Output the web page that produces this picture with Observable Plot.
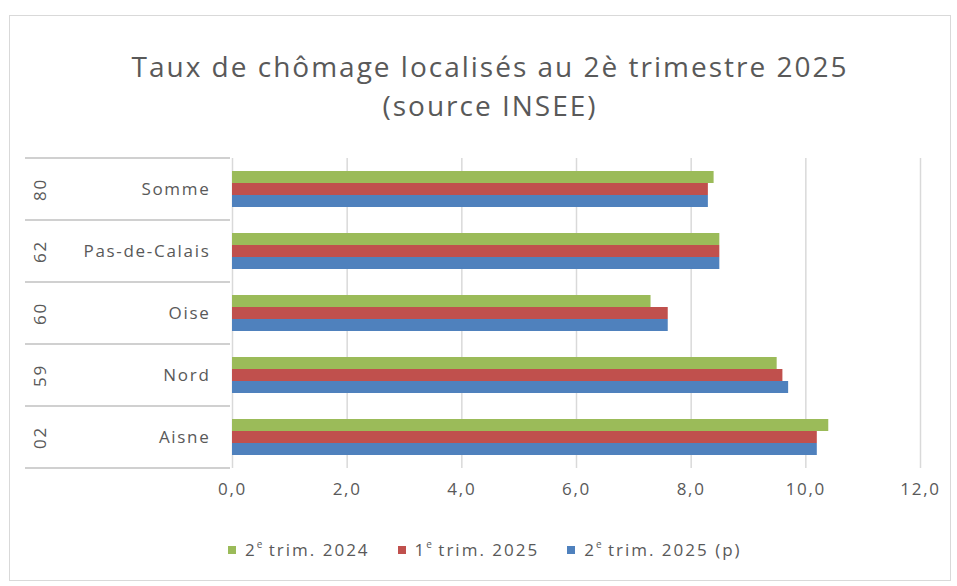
<!DOCTYPE html>
<html><head><meta charset="utf-8">
<script src="https://cdn.jsdelivr.net/npm/d3@7"></script>
<script src="https://cdn.jsdelivr.net/npm/@observablehq/plot@0.6"></script>
<style>
html,body{margin:0;padding:0;background:#fff;}
body{width:957px;height:586px;position:relative;overflow:hidden;font-family:"Open Sans",sans-serif;color:#595959;}
#box{position:absolute;left:9px;top:15px;width:942px;height:566px;border:1.5px solid #d9d9d9;box-sizing:border-box;}
#title{position:absolute;left:23px;top:47px;width:934px;text-align:center;font-size:28px;letter-spacing:2px;line-height:39px;color:#595959;}
#chart{position:absolute;left:0;top:150px;}
#legend{position:absolute;left:228px;top:538px;display:flex;gap:28px;font-size:17px;letter-spacing:2px;line-height:24px;color:#595959;}
#legend .it{display:flex;align-items:center;gap:9px;}
#legend .sw{width:8px;height:8px;display:inline-block;}
sup{font-size:10px;vertical-align:8px;line-height:0;letter-spacing:0;}
</style></head>
<body>
<div id="box"></div>
<div id="title">Taux de chômage localisés au 2è trimestre 2025<br>(source INSEE)</div>
<div id="chart"></div>
<div id="legend"></div>
<script>
const regions = ["Somme", "Pas-de-Calais", "Oise", "Nord", "Aisne"];
const codes = ["80", "62", "60", "59", "02"];
const series = ["2e trim. 2024", "1e trim. 2025", "2e trim. 2025 (p)"];
const seriesHtml = ["2<sup>e</sup> trim. 2024", "1<sup>e</sup> trim. 2025", "2<sup>e</sup> trim. 2025 (p)"];
const t2_2024 = [8.4, 8.5, 7.3, 9.5, 10.4];
const t1_2025 = [8.3, 8.5, 7.6, 9.6, 10.2];
const t2_2025 = [8.3, 8.5, 7.6, 9.7, 10.2];
const xTicks = [0, 2, 4, 6, 8, 10, 12];
const colors = ["#9BBB59", "#C0504D", "#4F81BD"];

const valuesBySeries = [t2_2024, t1_2025, t2_2025];
const rows = [];
series.forEach((s, si) => regions.forEach((r, ri) => rows.push({series: s, region: r, value: valuesBySeries[si][ri]})));
const codeRows = regions.map((r, i) => ({region: r, code: codes[i]}));

const chart = Plot.plot({
  width: 957,
  height: 354,
  marginLeft: 232,
  marginRight: 37,
  marginTop: 7,
  marginBottom: 35,
  style: {fontFamily: "Open Sans, sans-serif", fontSize: "17px", letterSpacing: "1.7px", color: "#595959", background: "transparent"},
  x: {domain: [0, 12], ticks: xTicks, tickFormat: d => d.toFixed(1).replace(".", ","), tickSize: 0, tickPadding: 14, label: null},
  y: {domain: series, axis: null, paddingInner: 0, paddingOuter: 1},
  fy: {domain: regions, padding: 0, label: null, axis: "left", tickSize: 0, tickPadding: 22},
  color: {domain: series, range: colors},
  marks: [
    Plot.gridX(xTicks, {stroke: "#d9d9d9", strokeOpacity: 1, strokeWidth: 1.5}),
    Plot.barX(rows, {x: "value", y: "series", fy: "region", fill: "series", inset: 0}),
    Plot.text(codeRows, {fy: "region", text: "code", frameAnchor: "left", textAnchor: "middle", dx: -192, rotate: -90, fill: "#595959", fontSize: 17})
  ]
});
document.getElementById("chart").appendChild(chart);

// row separator lines of the category table
const fy = chart.scale("fy");
const svg = d3.select(chart);
const edges = regions.map(r => fy.apply(r)).concat([fy.apply(regions[regions.length - 1]) + fy.bandwidth]);
svg.insert("g", ":first-child").selectAll("line").data(edges).join("line")
  .attr("x1", 25).attr("x2", 230).attr("y1", d => d).attr("y2", d => d)
  .attr("stroke", "#d0d0d0").attr("stroke-width", 2);

const legend = document.getElementById("legend");
series.forEach((s, i) => {
  const it = document.createElement("div");
  it.className = "it";
  it.innerHTML = `<span class="sw" style="background:${colors[i]}"></span><span>${seriesHtml[i]}</span>`;
  legend.appendChild(it);
});
</script>
</body></html>
